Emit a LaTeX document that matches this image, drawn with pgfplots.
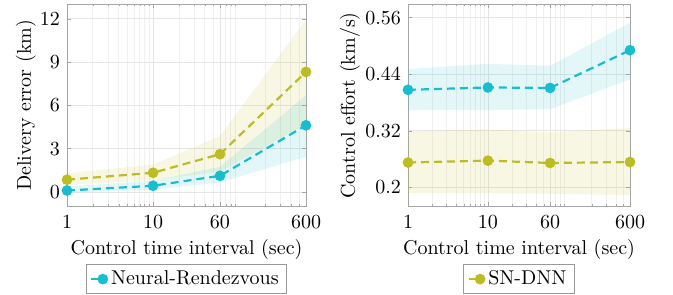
\documentclass[border=0pt]{standalone}
\usepackage{pgfplots}
\pgfplotsset{compat=1.18}
\definecolor{nrc}{RGB}{23,190,207}
\definecolor{snc}{RGB}{188,189,34}

\pgfplotstableread{
x   m
1   0.10
10  0.43
60  1.12
600 4.62
}\nrerr
\pgfplotstableread{
x   m
1   0.85
10  1.33
60  2.62
600 8.32
}\snerr
\pgfplotstableread{
x   m
1   0.407
10  0.412
60  0.411
600 0.491
}\nreff
\pgfplotstableread{
x   m
1   0.253
10  0.257
60  0.252
600 0.254
}\sneff

\tikzset{
  nrline/.style={color=nrc, line width=1.1pt, dash pattern=on 4pt off 2.5pt,
    mark=*, mark size=2.1pt, mark options={solid, fill=nrc, draw=nrc}},
  snline/.style={color=snc, line width=1.1pt, dash pattern=on 4pt off 2.5pt,
    mark=*, mark size=2.1pt, mark options={solid, fill=snc, draw=snc}},
}

\begin{document}
\begin{tikzpicture}
\path[use as bounding box] (-33.5pt,-44pt) rectangle (303pt,103.2pt);
\begin{axis}[scale only axis, height=101pt, width=119.5pt,
    xmode=log, xmin=1, xmax=600,
    xtick={1,10,60,600}, xticklabels={1,10,60,600},
    minor xtick={2,3,4,5,6,7,8,9,20,30,40,50,70,80,90,200,300,400,500},
    grid=both, major grid style={black!10}, minor grid style={black!6},
    axis line style={black!35}, tick style={black!35},
    major tick length=2pt, minor tick length=1pt,
    tick align=inside,
    xticklabel style={yshift=-1pt},
    xlabel={Control time interval (sec)},
    xlabel style={at={(axis description cs:0.5,-0.215)}, anchor=center},
    legend style={draw=black!40, at={(0.5,-0.36)}, anchor=center,
      inner xsep=2pt, inner ysep=1pt, legend cell align=left},
  ymin=-1, ymax=13, ytick={0,3,6,9,12},
  ylabel={Delivery error (km)},
  ylabel style={at={(axis description cs:-0.172,0.5)}, anchor=center},
  legend image code/.code={
      \draw[#1,mark=none] (0cm,0cm) -- (0.14cm,0cm);
      \draw[#1] plot coordinates {(0.2cm,0cm)};
  }]
  \addplot[fill=snc, fill opacity=0.12, draw=none, forget plot] coordinates
    {(1,1.30) (10,1.90) (60,3.88) (600,11.95) (600,4.70) (60,1.40) (10,0.82) (1,0.50)} -- cycle;
  \addplot[fill=nrc, fill opacity=0.12, draw=none, forget plot] coordinates
    {(1,0.37) (10,0.78) (60,1.75) (600,6.70) (600,2.45) (60,0.66) (10,0.16) (1,-0.05)} -- cycle;
  \addplot[snline, forget plot] table[x=x,y=m] {\snerr};
  \addplot[nrline] table[x=x,y=m] {\nrerr};
  \addlegendentry{Neural-Rendezvous}
\end{axis}
\begin{axis}[scale only axis, height=101pt, width=111pt, xshift=170.5pt,
    xmode=log, xmin=1, xmax=600,
    xtick={1,10,60,600}, xticklabels={1,10,60,600},
    minor xtick={2,3,4,5,6,7,8,9,20,30,40,50,70,80,90,200,300,400,500},
    grid=both, major grid style={black!10}, minor grid style={black!6},
    axis line style={black!35}, tick style={black!35},
    major tick length=2pt, minor tick length=1pt,
    tick align=inside,
    xticklabel style={yshift=-1pt},
    xlabel={Control time interval (sec)},
    xlabel style={at={(axis description cs:0.5,-0.215)}, anchor=center},
    legend style={draw=black!40, at={(0.5,-0.36)}, anchor=center,
      inner xsep=2pt, inner ysep=1pt, legend cell align=left},
  ymin=0.16, ymax=0.588, ytick={0.2,0.32,0.44,0.56},
  yticklabel style={/pgf/number format/fixed, /pgf/number format/precision=2},
  ylabel={Control effort (km/s)},
  ylabel style={at={(axis description cs:-0.262,0.5)}, anchor=center},
  legend image code/.code={
      \draw[#1,mark=none] (0cm,0cm) -- (0.14cm,0cm);
      \draw[#1] plot coordinates {(0.2cm,0cm)};
  }]
  \addplot[fill=snc, fill opacity=0.12, draw=none, forget plot] coordinates
    {(1,0.319) (10,0.323) (60,0.317) (600,0.326) (600,0.184) (60,0.187) (10,0.188) (1,0.188)} -- cycle;
  \addplot[fill=nrc, fill opacity=0.12, draw=none, forget plot] coordinates
    {(1,0.451) (10,0.462) (60,0.458) (600,0.549) (600,0.429) (60,0.366) (10,0.364) (1,0.364)} -- cycle;
  \addplot[nrline, forget plot] table[x=x,y=m] {\nreff};
  \addplot[snline] table[x=x,y=m] {\sneff};
  \addlegendentry{SN-DNN}
\end{axis}
\end{tikzpicture}
\end{document}
